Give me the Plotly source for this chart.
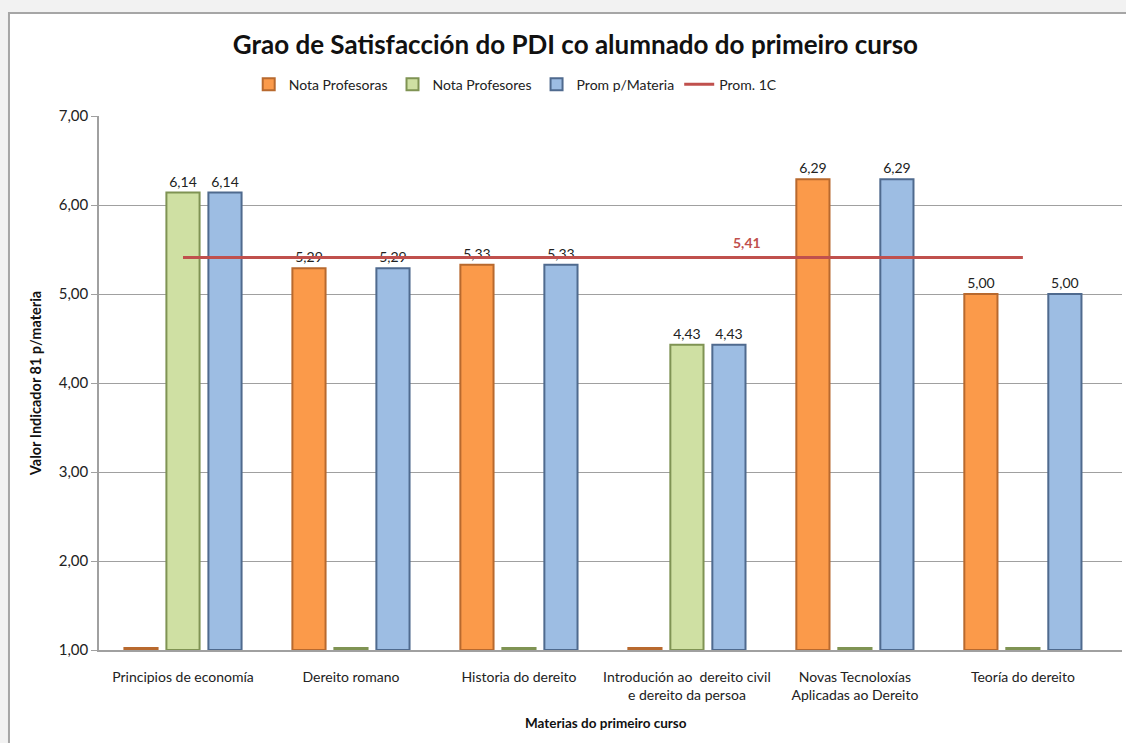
import plotly.graph_objects as go

# Datos do gráfico
categorias = [
    "Principios de economía",
    "Dereito romano",
    "Historia do dereito",
    "Introdución ao  dereito civil<br>e dereito da persoa",
    "Novas Tecnoloxías<br>Aplicadas ao Dereito",
    "Teoría do dereito",
]
nota_profesoras = [0, 5.29, 5.33, 0, 6.29, 5.00]
nota_profesores = [6.14, 0, 0, 4.43, 0, 0]
prom_materia = [6.14, 5.29, 5.33, 4.43, 6.29, 5.00]
prom_1c = 5.41

y_min = 1
y_max = 7
tick_vals = [1, 2, 3, 4, 5, 6, 7]
tick_text = ["1,00", "2,00", "3,00", "4,00", "5,00", "6,00", "7,00"]

FONT = "Lato, 'Open Sans', sans-serif"


def fmt(v):
    return f"{v:.2f}".replace(".", ",")


def bar_trace(name, values, fill, edge):
    # Excel debuxa os ceros como unha barra plana na base do eixo
    heights = [v - y_min if v > 0 else 0.022 for v in values]
    texts = [fmt(v) if v > 0 else "" for v in values]
    return go.Bar(
        x=categorias,
        y=heights,
        base=y_min,
        name=name,
        text=texts,
        textposition="outside",
        textfont=dict(family=FONT, size=14, color="#222222"),
        cliponaxis=False,
        marker=dict(color=fill, line=dict(color=edge, width=2)),
    )


fig = go.Figure()
fig.add_trace(bar_trace("Nota Profesoras", nota_profesoras, "#FB9A4A", "#B8692E"))
fig.add_trace(bar_trace("Nota Profesores", nota_profesores, "#CFE0A3", "#7F9353"))
fig.add_trace(bar_trace("Prom p/Materia", prom_materia, "#9DBDE3", "#4F6A8E"))
fig.add_trace(go.Scatter(
    x=categorias,
    y=[prom_1c] * len(categorias),
    mode="lines",
    name="Prom. 1C",
    line=dict(color="#C0504D", width=3),
))

fig.add_annotation(
    x=3.36, y=prom_1c, xref="x", yref="y",
    text="<b>" + fmt(prom_1c) + "</b>",
    showarrow=False, yshift=15,
    font=dict(family=FONT, size=14, color="#C0504D"),
)

# título do eixo X como anotación (as etiquetas de dúas liñas non o empurran)
fig.add_annotation(
    x=0.496, y=-0.137, xref="paper", yref="paper",
    text="<b>Materias do primeiro curso</b>",
    showarrow=False, xanchor="center", yanchor="middle",
    font=dict(family=FONT, size=13.5, color="#111111"),
)

# marco do gráfico estilo Excel
fig.add_shape(
    type="rect", xref="paper", yref="paper",
    x0=-0.088, x1=1.2, y0=-0.4, y1=1.193,
    fillcolor="white", line=dict(color="#A6A6A6", width=2),
    layer="below",
)

fig.update_layout(
    width=1126,
    height=743,
    margin=dict(l=99, r=4, t=116, b=93),
    paper_bgcolor="#F2F2F2",
    plot_bgcolor="white",
    font=dict(family=FONT, size=14, color="#222222"),
    title=dict(
        text="<b>Grao de Satisfacción do PDI co alumnado do primeiro curso</b>",
        x=0.511, xref="container", xanchor="center",
        y=0.94, yref="container", yanchor="middle",
        font=dict(family=FONT, size=26, color="#111111"),
    ),
    legend=dict(
        orientation="h",
        x=0.458, xref="container", xanchor="center",
        y=0.886, yref="container", yanchor="middle",
        font=dict(family=FONT, size=14),
        bgcolor="rgba(0,0,0,0)",
        itemwidth=30,
    ),
    barmode="group",
    bargap=0.25,
    bargroupgap=0.21,
    showlegend=True,
)

fig.update_xaxes(
    range=[-0.5, 5.59],
    showgrid=False,
    showline=True, linecolor="#A0A0A0", linewidth=1.5,
    ticks="",
    ticklabelstandoff=13,
    tickfont=dict(family=FONT, size=14, color="#222222"),
)
fig.update_yaxes(
    range=[y_min, y_max],
    tickvals=tick_vals,
    ticktext=tick_text,
    showgrid=True, gridcolor="#A0A0A0", gridwidth=1,
    showline=True, linecolor="#A0A0A0", linewidth=1.5,
    ticks="outside", ticklen=6, tickcolor="#A0A0A0",
    tickfont=dict(family=FONT, size=15, color="#222222"),
    zeroline=False,
    title=dict(text="<b>Valor Indicador 81 p/materia</b>",
               font=dict(family=FONT, size=14.5, color="#111111"), standoff=14),
)

fig.write_html("out.html", config={"displayModeBar": False},
               post_script="document.body.style.margin='0';")
